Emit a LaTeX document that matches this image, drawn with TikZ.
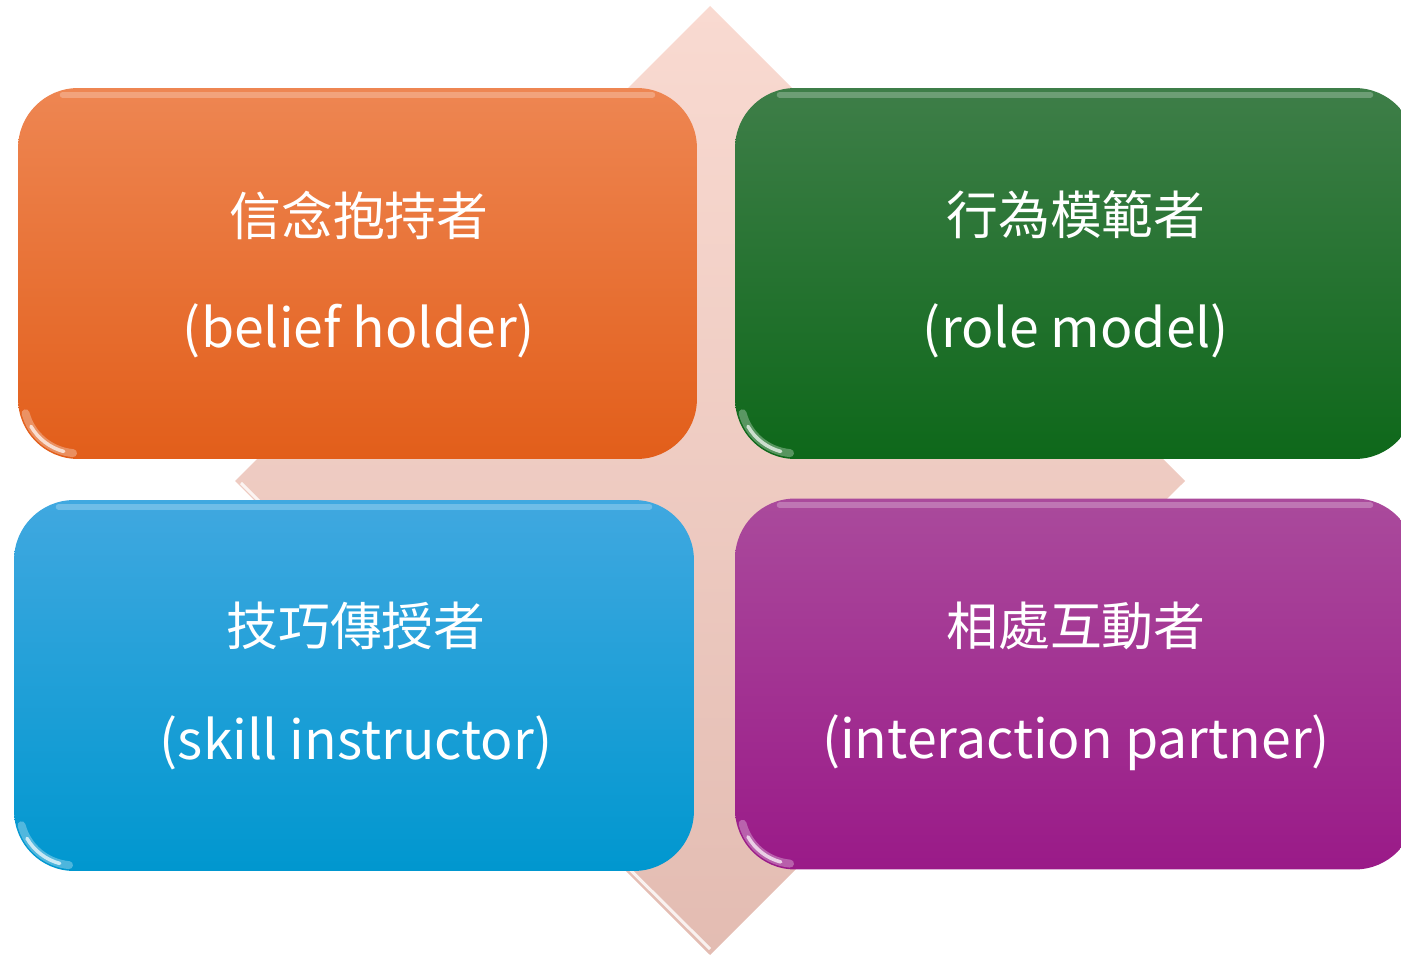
\documentclass[tikz,border=0pt]{standalone}
\usepackage{fontspec}
\setmainfont{Noto Sans CJK TC}
\usetikzlibrary{calc}
\definecolor{orgT}{HTML}{EE8652}\definecolor{orgB}{HTML}{E25E1A}
\definecolor{grnT}{HTML}{3E7E48}\definecolor{grnB}{HTML}{0E681A}
\definecolor{bluT}{HTML}{40A8E0}\definecolor{bluB}{HTML}{0097CF}
\definecolor{purT}{HTML}{AA4A9C}\definecolor{purB}{HTML}{9A1A88}
\definecolor{diaT}{HTML}{F9DAD1}\definecolor{diaM}{HTML}{F6D1C7}\definecolor{diaB}{HTML}{E3BCB2}
\tikzset{
  card/.style={rounded corners=1.2cm, minimum width=13.6cm, minimum height=7.42cm, inner sep=0pt, draw=none},
  cjk/.style={text=white, font=\fontsize{29.5}{32}\selectfont},
  lat/.style={text=white, font=\fontsize{30.5}{34}\selectfont},
  hilite/.style={white, line width=0.12cm, opacity=0.25, line cap=round},
  glowsoft/.style={white, line width=0.16cm, opacity=0.3, line cap=round},
  glow/.style={white, line width=0.07cm, opacity=0.7, line cap=round},
}
\begin{document}
\begin{tikzpicture}[x=0.02cm,y=-0.02cm]
\useasboundingbox (0,0) rectangle (1401,956);
\clip (0,0) rectangle (1401,956);
% diamond
\coordinate (dt) at (710,6);
\coordinate (dr) at (1185,481);
\coordinate (db) at (710,955);
\coordinate (dl) at (235,481);
\shade[top color=diaT, middle color=diaM, bottom color=diaB] (dt) -- (dr) -- (db) -- (dl) -- cycle;
\draw[white, line width=0.06cm, opacity=0.8] ($(dl)+(6,2)$) -- ($(db)+(0,-6)$);
% cards
\node[card, top color=orgT, bottom color=orgB, minimum width=13.58cm] (c1) at (357.5,273.5) {};
\node[card, top color=grnT, bottom color=grnB] (c2) at (1075,273.5) {};
\node[card, top color=bluT, bottom color=bluB] (c3) at (354,685.5) {};
\node[card, top color=purT, bottom color=purB] (c4) at (1075,684) {};
% highlights
\foreach \n in {c1,c2,c3,c4}{
  \draw[hilite] ($(\n.north west)+(45,7)$) -- ($(\n.north east)+(-45,7)$);
  \draw[glowsoft] ($(\n.south west)+(60,-60)+(95:54)$) arc[start angle=95, end angle=165, radius=54];
  \draw[glow] ($(\n.south west)+(60,-60)+(105:54)$) arc[start angle=105, end angle=150, radius=54];
}
% texts
\node[cjk] (t1) at (359,215) {信念抱持者};
\node[lat] (l1) at (359,331) {(belief holder)};
\node[cjk] (t2) at (1076,215) {行為模範者};
\node[lat] (l2) at (1076,331) {(role model)};
\node[cjk] (t3) at (356,626) {技巧傳授者};
\node[lat] (l3) at (356,743) {(skill instructor)};
\node[cjk] (t4) at (1076,626) {相處互動者};
\node[lat] (l4) at (1076,743) {(interaction partner)};
\end{tikzpicture}
\end{document}
